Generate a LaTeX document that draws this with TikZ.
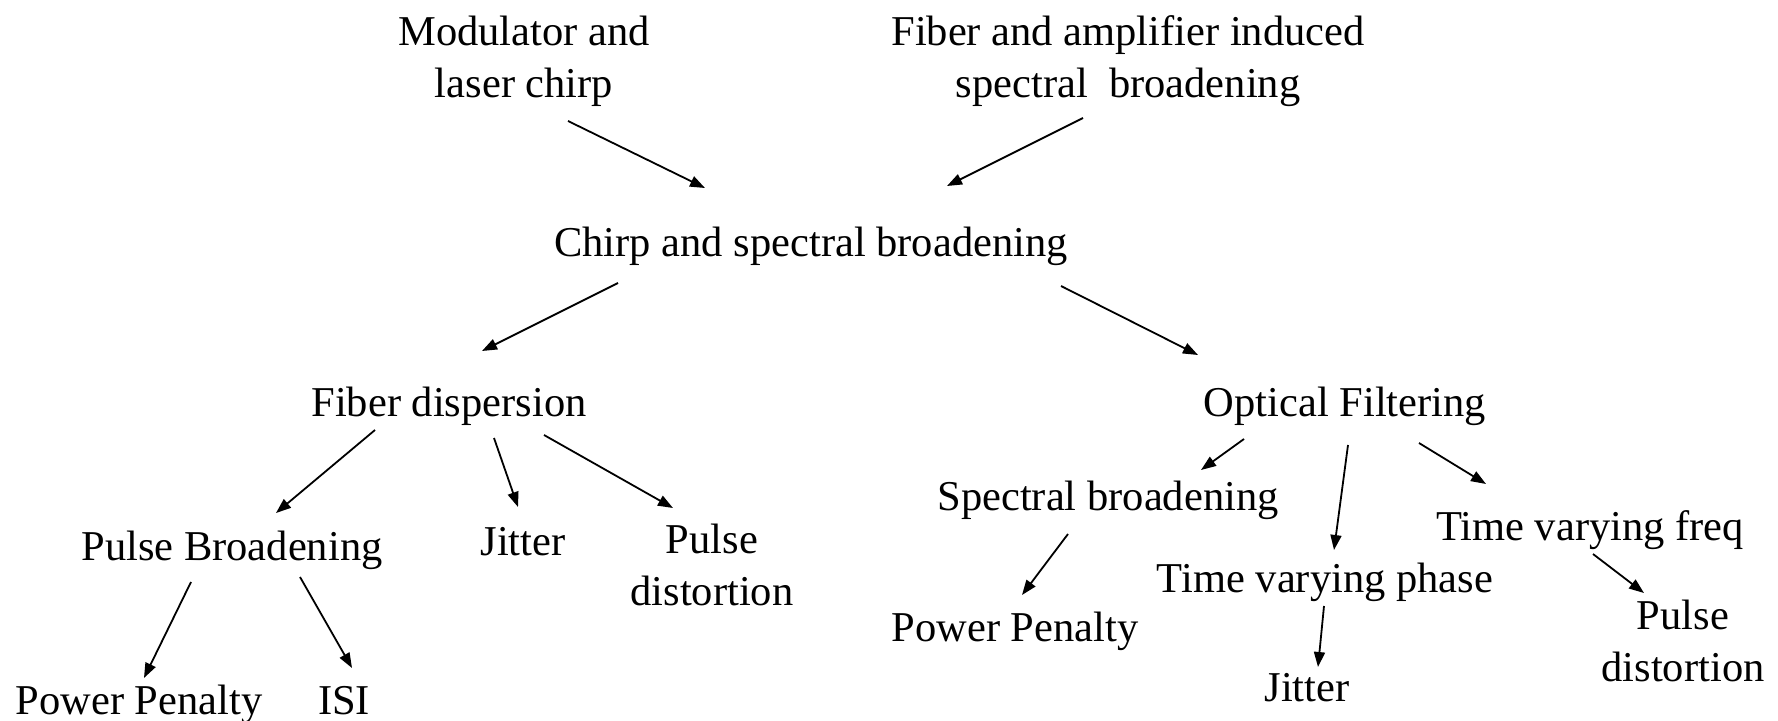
\documentclass[tikz,border=0pt]{standalone}
\usepackage{fontspec}
\setmainfont{Liberation Serif}
\usetikzlibrary{arrows.meta}
\begin{document}
\begin{tikzpicture}[x=0.5pt,y=-0.5pt,
  lbl/.style={inner sep=0pt,anchor=base,align=center,font=\fontsize{21.25}{26}\selectfont},
  arr/.style={line width=0.9pt,-{Triangle[length=7.5pt,width=5.5pt]}}]
\useasboundingbox (0,0) rectangle (1778,721);
% nodes (two-line nodes: base = baseline of last line)
\node[lbl] (mod) at (524,98) {Modulator and\\laser chirp};
\node[lbl] (fai) at (1128,98) {Fiber and amplifier induced\\spectral\ \ broadening};
\node[lbl] (csb) at (811,257) {Chirp and spectral broadening};
\node[lbl] (fd) at (449,417) {Fiber dispersion};
\node[lbl] (of) at (1345,417) {Optical Filtering};
\node[lbl] (pb) at (232,560) {Pulse Broadening};
\node[lbl] (jl) at (523,555) {Jitter};
\node[lbl] (pdl) at (712,605) {Pulse\\distortion};
\node[lbl] (ppl) at (139,714) {Power Penalty};
\node[lbl] (isi) at (344,714) {ISI};
\node[lbl] (sb) at (1108,510) {Spectral broadening};
\node[lbl] (ppr) at (1015,641) {Power Penalty};
\node[lbl] (tvp) at (1325,592) {Time varying phase};
\node[lbl] (jr) at (1307,701) {Jitter};
\node[lbl] (tvf) at (1590,540) {Time varying freq};
\node[lbl] (pdr) at (1683,681) {Pulse\\distortion};
% connector end points
\coordinate (a1s) at (568,121);  \coordinate (a1e) at (705,188);
\coordinate (a2s) at (1083,118); \coordinate (a2e) at (947,186);
\coordinate (a3s) at (618,283);  \coordinate (a3e) at (482,351);
\coordinate (a4s) at (1061,286); \coordinate (a4e) at (1198,355);
\coordinate (a5s) at (375,430);  \coordinate (a5e) at (276,513);
\coordinate (a6s) at (494,438);  \coordinate (a6e) at (518,507);
\coordinate (a7s) at (544,435);  \coordinate (a7e) at (673,508);
\coordinate (a8s) at (191,582);  \coordinate (a8e) at (144,678);
\coordinate (a9s) at (300,577);  \coordinate (a9e) at (352,668);
\coordinate (b1s) at (1244,439); \coordinate (b1e) at (1201,470);
\coordinate (b2s) at (1348,445); \coordinate (b2e) at (1334,550);
\coordinate (b3s) at (1419,443); \coordinate (b3e) at (1486,484);
\coordinate (b4s) at (1068,534); \coordinate (b4e) at (1022,595);
\coordinate (b5s) at (1324,606); \coordinate (b5e) at (1318,667);
\coordinate (b6s) at (1593,554); \coordinate (b6e) at (1644,593);
% connectors
\draw[arr] (a1s) -- (a1e);
\draw[arr] (a2s) -- (a2e);
\draw[arr] (a3s) -- (a3e);
\draw[arr] (a4s) -- (a4e);
\draw[arr] (a5s) -- (a5e);
\draw[arr] (a6s) -- (a6e);
\draw[arr] (a7s) -- (a7e);
\draw[arr] (a8s) -- (a8e);
\draw[arr] (a9s) -- (a9e);
\draw[arr] (b1s) -- (b1e);
\draw[arr] (b2s) -- (b2e);
\draw[arr] (b3s) -- (b3e);
\draw[arr] (b4s) -- (b4e);
\draw[arr] (b5s) -- (b5e);
\draw[arr] (b6s) -- (b6e);
\end{tikzpicture}
\end{document}
